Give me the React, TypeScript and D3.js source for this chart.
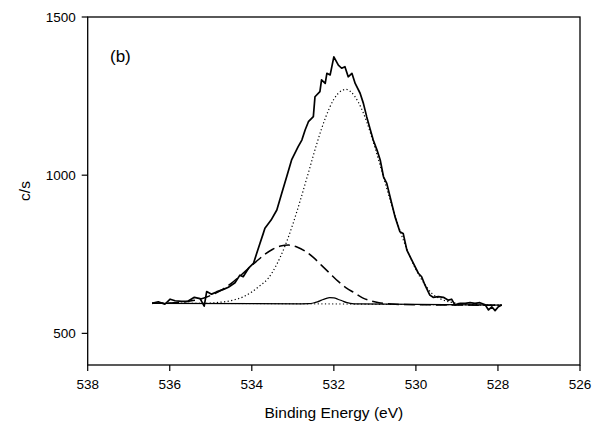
import React from "react";
import * as d3 from "d3";

const xTicks = [538, 536, 534, 532, 530, 528, 526];
const yTicks = [500, 1000, 1500];

const specE = [536.43,536.28,536.12,535.99,535.87,535.71,535.55,535.40,535.26,535.16,535.10,534.98,534.86,534.69,534.57,534.41,534.29,534.21,534.08,533.96,533.88,533.80,533.72,533.68,533.53,533.39,533.27,533.15,533.03,532.87,532.78,532.70,532.62,532.50,532.46,532.34,532.30,532.21,532.17,532.09,532.00,531.89,531.81,531.73,531.65,531.56,531.48,531.36,531.28,531.20,531.12,531.04,530.95,530.87,530.79,530.71,530.63,530.55,530.51,530.39,530.31,530.22,530.06,529.94,529.86,529.78,529.66,529.58,529.45,529.33,529.21,529.13,529.05,528.92,528.80,528.68,528.56,528.44,528.31,528.23,528.15,528.07,527.99,527.91];
const specV = [595,600,592,608,603,601,602,614,610,586,632,624,631,639,646,660,684,679,706,721,753,785,816,832,858,890,943,995,1048,1090,1111,1143,1169,1185,1248,1264,1301,1290,1322,1317,1374,1348,1338,1343,1311,1322,1290,1259,1227,1185,1148,1111,1080,1048,995,974,932,890,869,821,816,763,721,690,679,653,621,614,616,614,605,608,590,595,595,597,595,597,590,574,584,572,584,590];

const bgE = [536.43, 534, 532, 530, 527.91];
const bgV = [595, 594, 593, 591, 589];

const dottedE = [536.43,535.6,535.2,535.0,534.8,534.6,534.4,534.2,534.0,533.8,533.6,533.4,533.2,533.0,532.8,532.6,532.4,532.2,532.0,531.8,531.7,531.6,531.4,531.2,531.0,530.8,530.6,530.4,530.2,530.0,529.8,529.6,529.4,529.2,529.0,528.8,528.6,527.91];
const dottedV = [595,594.5,594.5,596,598,601,607,616,631,651,674,716,773,845,928,1017,1106,1183,1240,1268,1271,1265,1230,1169,1088,999,910,829,760,702,658,625,609,600,595,592,591,589];

const dashedE = [536.43,535.9,535.5,535.3,535.1,534.9,534.7,534.5,534.3,534.1,533.9,533.7,533.5,533.3,533.1,532.9,532.7,532.5,532.3,532.1,531.9,531.7,531.5,531.3,531.1,530.9,530.7,530.5,530.3,527.91];
const dashedV = [595,597,602,607,615,626,640,658,680,703,726,748,765,776,779,773,760,740,715,690,665,644,628,612,603,597,594,592,591,589];

const smallE = [536.43,532.8,532.6,532.5,532.4,532.3,532.2,532.1,532.0,531.9,531.8,531.7,531.6,531.4,527.91];
const smallV = [595,593.5,594,596,599.5,605,610,613,612,608,603,598,595,593,589];

const W = 594, H = 422;
const left = 87.7, right = 580, top = 17, bottom = 365;
const FONT = "'Liberation Sans', Arial, sans-serif";

export default function App() {
  const x = d3.scaleLinear().domain([538, 526]).range([left, right]);
  const y = d3.scaleLinear().domain([400, 1500]).range([bottom, top]);

  const mk = (es: number[], vs: number[], curve: any) =>
    d3.line<number>().x((_, i) => x(es[i])).y((v) => y(v)).curve(curve)(vs) || "";

  const spec = mk(specE, specV, d3.curveLinear);
  const bg = mk(bgE, bgV, d3.curveLinear);
  const dotted = mk(dottedE, dottedV, d3.curveMonotoneX);
  const dashed = mk(dashedE, dashedV, d3.curveMonotoneX);
  const small = mk(smallE, smallV, d3.curveMonotoneX);

  return (
    <svg width={W} height={H} style={{ position: "absolute", left: 0, top: 0, background: "#fff" }} fontFamily={FONT}>
      <rect x={0} y={0} width={W} height={H} fill="#fff" />
      <path d={bg} fill="none" stroke="#000" strokeWidth={1} strokeDasharray="1.2,2.4" />
      <path d={dashed} fill="none" stroke="#000" strokeWidth={1.5} strokeDasharray="11,5" />
      <path d={dotted} fill="none" stroke="#000" strokeWidth={1.2} strokeDasharray="1.2,2.4" />
      <path d={small} fill="none" stroke="#000" strokeWidth={1.2} />
      <path d={spec} fill="none" stroke="#000" strokeWidth={1.7} strokeLinejoin="round" />

      <rect x={left} y={top} width={right - left} height={bottom - top} fill="none" stroke="#000" strokeWidth={1.3} />

      {yTicks.map((t) => (
        <g key={t}>
          <line x1={left - 6} x2={left} y1={y(t)} y2={y(t)} stroke="#000" strokeWidth={1.2} />
          <text x={left - 12} y={y(t)} dy="0.35em" textAnchor="end" fontSize={13.5} fill="#000">{t}</text>
        </g>
      ))}
      {xTicks.map((t) => (
        <g key={t}>
          <line x1={x(t)} x2={x(t)} y1={bottom} y2={bottom + 6} stroke="#000" strokeWidth={1.2} />
          <text x={x(t)} y={bottom + 19} dy="0.35em" textAnchor="middle" fontSize={13.5} fill="#000">{t}</text>
        </g>
      ))}
      <text x={(left + right) / 2} y={418} textAnchor="middle" fontSize={15.5} fill="#000">Binding Energy (eV)</text>
      <text transform={`translate(29.5, ${(top + bottom) / 2}) rotate(-90)`} textAnchor="middle" fontSize={15.5} fill="#000">c/s</text>
      <text x={110} y={61.5} fontSize={17} fill="#000">(b)</text>
    </svg>
  );
}
